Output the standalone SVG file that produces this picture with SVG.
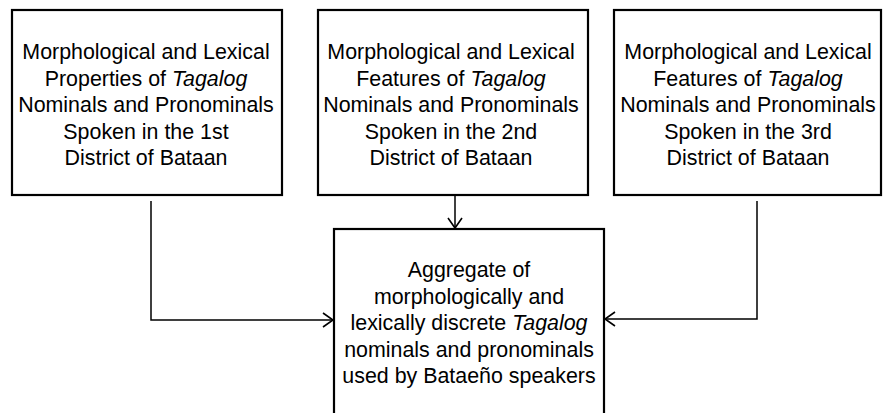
<svg xmlns="http://www.w3.org/2000/svg" width="883" height="413" viewBox="0 0 883 413">
<defs>
<marker id="arr" markerWidth="14" markerHeight="18" refX="11" refY="8" orient="auto" markerUnits="userSpaceOnUse">
<path d="M1,1 L11,8 L1,15" fill="none" stroke="#000" stroke-width="1.6"/>
</marker>
</defs>
<style>
.box{fill:#fff;stroke:#000;stroke-width:2.2}
.t{font-family:"Liberation Sans",Arial,sans-serif;font-size:21.4px;fill:#000;text-anchor:middle}
.i{font-style:italic}
.c{fill:none;stroke:#000;stroke-width:1.5}
</style>
<rect width="883" height="413" fill="#fff"/>
<g id="connectors">
<path class="c" d="M151,201 V320 H333" marker-end="url(#arr)"/>
<path class="c" d="M455,195 V228" marker-end="url(#arr)"/>
<path class="c" d="M757,201 V319 H605" marker-end="url(#arr)"/>
</g>
<g id="node1">
<rect class="box" x="12" y="10" width="270" height="185"/>
<text class="t" x="146" y="59">Morphological and Lexical</text>
<text class="t" x="146" y="85.5">Properties of <tspan class="i">Tagalog</tspan></text>
<text class="t" x="146" y="112">Nominals and Pronominals</text>
<text class="t" x="146" y="138.5">Spoken in the 1st</text>
<text class="t" x="146" y="165">District of Bataan</text>
</g>
<g id="node2">
<rect class="box" x="318" y="10" width="270" height="185"/>
<text class="t" x="451" y="59">Morphological and Lexical</text>
<text class="t" x="451" y="85.5">Features of <tspan class="i">Tagalog</tspan></text>
<text class="t" x="451" y="112">Nominals and Pronominals</text>
<text class="t" x="451" y="138.5">Spoken in the 2nd</text>
<text class="t" x="451" y="165">District of Bataan</text>
</g>
<g id="node3">
<rect class="box" x="614" y="10" width="267" height="185"/>
<text class="t" x="748" y="59">Morphological and Lexical</text>
<text class="t" x="748" y="85.5">Features of <tspan class="i">Tagalog</tspan></text>
<text class="t" x="748" y="112">Nominals and Pronominals</text>
<text class="t" x="748" y="138.5">Spoken in the 3rd</text>
<text class="t" x="748" y="165">District of Bataan</text>
</g>
<g id="node4">
<rect class="box" x="334" y="229" width="270" height="200"/>
<text class="t" x="469" y="277">Aggregate of</text>
<text class="t" x="469" y="303.5">morphologically and</text>
<text class="t" x="469" y="330">lexically discrete <tspan class="i">Tagalog</tspan></text>
<text class="t" x="469" y="356.5">nominals and pronominals</text>
<text class="t" x="469" y="383">used by Bataeño speakers</text>
</g>
</svg>
